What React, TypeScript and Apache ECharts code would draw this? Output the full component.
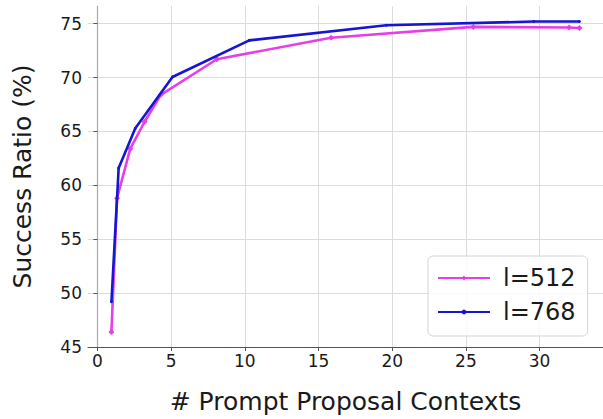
import React, { useEffect, useRef } from "react";
import * as echarts from "echarts";

const x512 = [0.95, 1.33, 2.23, 3.2, 4.3, 8.1, 15.85, 25.5, 32.0, 32.7];
const y512 = [46.4, 58.8, 63.4, 65.9, 68.4, 71.7, 73.7, 74.7, 74.65, 74.6];
const x768 = [0.95, 1.44, 2.57, 5.09, 10.3, 19.6, 29.6, 32.7];
const y768 = [49.2, 61.6, 65.3, 70.05, 73.45, 74.85, 75.2, 75.2];
const xTicks = [0, 5, 10, 15, 20, 25, 30];
const seriesNames = ["l=512", "l=768"];
const xTitle = "# Prompt Proposal Contexts";
const yTitle = "Success Ratio (%)";

const FONT = "DejaVu Sans";

export default function App() {
  const ref = useRef<HTMLDivElement>(null);
  useEffect(() => {
    document.body.style.margin = "0";
    const chart = echarts.init(ref.current!, null, { renderer: "svg" });
    chart.setOption({
      animation: false,
      backgroundColor: "#ffffff",
      grid: { left: 88, top: 6, right: -2, bottom: 70, containLabel: false },
      xAxis: {
        type: "value",
        min: -0.64,
        max: 34.3,
        name: xTitle,
        nameLocation: "middle",
        nameGap: 42,
        nameTextStyle: { fontFamily: FONT, fontSize: 25, color: "#1a1a1a" },
        axisLine: { show: true, lineStyle: { color: "#555555", width: 1.2 } },
        axisTick: { show: true, length: 4, lineStyle: { color: "#555555" }, customValues: xTicks },
        axisLabel: {
          fontFamily: FONT,
          fontSize: 17,
          color: "#1a1a1a",
          margin: 5,
          customValues: xTicks,
        },
        splitLine: { show: true, lineStyle: { color: "#dcdcdc", width: 1 } },
      },
      yAxis: {
        type: "value",
        min: 45,
        max: 76.64,
        interval: 5,
        name: yTitle,
        nameLocation: "middle",
        nameGap: 53,
        nameTextStyle: { fontFamily: FONT, fontSize: 25, color: "#1a1a1a" },
        axisLine: { show: true, lineStyle: { color: "#aaaaaa", width: 1.2 } },
        axisTick: { show: true, length: 4, lineStyle: { color: "#555555" } },
        axisLabel: {
          fontFamily: FONT,
          fontSize: 17,
          color: "#1a1a1a",
          margin: 6,
          showMaxLabel: false,
        },
        splitLine: { show: true, showMinLine: false, showMaxLine: false, lineStyle: { color: "#dcdcdc", width: 1 } },
      },
      legend: {
        orient: "vertical",
        left: 428,
        top: 256,
        width: 164,
        padding: [10, 12, 12, 9],
        itemGap: 10,
        itemWidth: 52,
        itemHeight: 6,
        backgroundColor: "rgba(255,255,255,0.85)",
        borderColor: "#d4d4d4",
        borderWidth: 1,
        borderRadius: 5,
        textStyle: { fontFamily: FONT, fontSize: 24, color: "#1a1a1a", padding: [0, 0, 0, 8] },
        data: seriesNames,
      },
      series: [
        {
          name: seriesNames[0],
          type: "line",
          data: x512.map((x, i) => [x, y512[i]]),
          symbol: "diamond",
          symbolSize: 6,
          lineStyle: { color: "#e63fe6", width: 2.6 },
          itemStyle: { color: "#e63fe6" },
          z: 2,
        },
        {
          name: seriesNames[1],
          type: "line",
          data: x768.map((x, i) => [x, y768[i]]),
          symbol: "circle",
          symbolSize: 3,
          lineStyle: { color: "#1515d2", width: 2.6 },
          itemStyle: { color: "#1515d2" },
          z: 3,
        },
      ],
    });
    return () => chart.dispose();
  }, []);
  return <div ref={ref} style={{ width: 603, height: 419 }} />;
}
